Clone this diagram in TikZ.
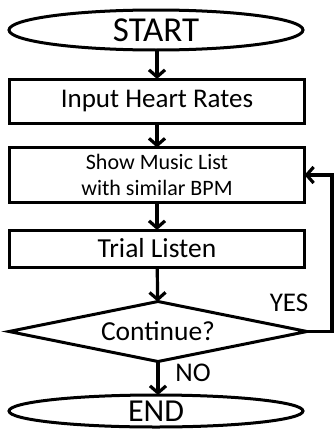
\documentclass[tikz,border=0pt]{standalone}
\usepackage{fontspec}
\setmainfont{Carlito}
\usetikzlibrary{shapes.geometric,arrows.meta}
\begin{document}
\begin{tikzpicture}[x=1pt,y=-1pt,
  every node/.style={inner sep=0pt,outer sep=0pt},
  term/.style={draw,line width=3pt,ellipse,minimum width=294pt},
  proc/.style={draw,line width=3pt,rectangle,minimum width=295pt},
  dec/.style={draw,line width=3pt,diamond,aspect=4.9,minimum width=298pt,minimum height=60pt},
  flow/.style={line width=3.2pt,-{Straight Barb[length=7pt,width=16pt]}},
  lab/.style={font=\fontsize{27}{30}\selectfont}]
\useasboundingbox (0,0) rectangle (335,431);
\node[term,minimum height=40pt,font=\fontsize{35}{38}\selectfont] (start) at (156,30) {START};
\node[proc,minimum height=44pt,font=\fontsize{27}{30}\selectfont] (b1) at (157,101) {Input Heart Rates};
\node[proc,minimum height=55pt,font=\fontsize{22}{26.5}\selectfont,align=center] (b2) at (157,175) {Show Music List\\with similar BPM};
\node[proc,minimum height=37pt,font=\fontsize{27.5}{30}\selectfont] (b3) at (157,248.5) {Trial Listen};
\node[dec,font=\fontsize{27.5}{30}\selectfont] (d) at (158,331.5) {Continue?};
\node[term,minimum height=32pt,font=\fontsize{32}{34}\selectfont] (end) at (156,411) {END};
\draw[flow] (start.south -| b1.north) -- (b1.north);
\draw[flow] (b1) -- (b2);
\draw[flow] (b2) -- (b3);
\draw[flow] (b3) -- (d);
\draw[flow] (d.south) -- (d.south |- end.north);
\coordinate (loop) at (332,331.5);
\draw[flow] (d.east) -- (loop) |- (b2.east);
\node[lab] (yes) at (289,303) {YES};
\node[lab] (no) at (193,373) {NO};
\end{tikzpicture}
\end{document}
